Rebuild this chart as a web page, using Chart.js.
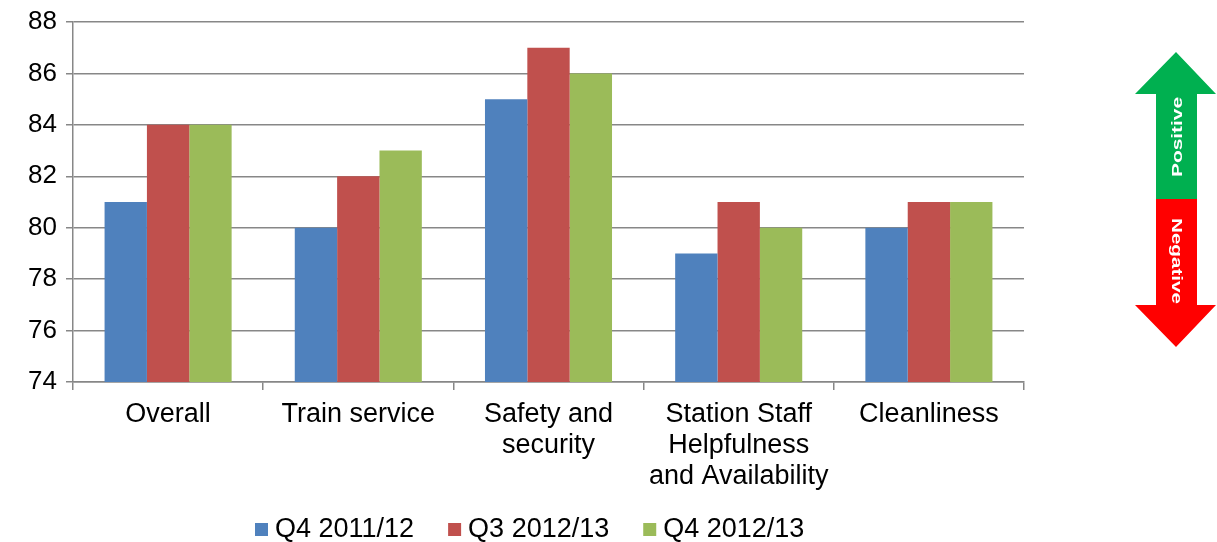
<!DOCTYPE html>
<html>
<head>
<meta charset="utf-8">
<script src="https://cdn.jsdelivr.net/npm/chart.js@4/dist/chart.umd.min.js"></script>
<style>
  html, body { margin: 0; padding: 0; background: #ffffff; }
  #wrap { width: 1217px; height: 542px; }
</style>
</head>
<body>
<div id="wrap"><canvas id="chart" width="1217" height="542"></canvas></div>
<script>
// Survey scores by category and quarter
const categories = [
  'Overall',
  'Train service',
  ['Safety and', 'security'],
  ['Station Staff', 'Helpfulness', 'and Availability'],
  'Cleanliness'
];
const seriesNames = ['Q4 2011/12', 'Q3 2012/13', 'Q4 2012/13'];
const q4_2011_12 = [81, 80, 85, 79, 80];
const q3_2012_13 = [84, 82, 87, 81, 81];
const q4_2012_13 = [84, 83, 86, 80, 81];
const yMin = 74;
const yMax = 88;
const yStep = 2;

const seriesColors = ['#4F81BD', '#C0504D', '#9BBB59'];
const gridColor = '#878787';
const FONT = '"Liberation Sans", Arial, sans-serif';
const FONT_SIZE = 27;

// Legend drawn along the bottom, small square swatch right next to each label
const bottomLegend = {
  id: 'bottomLegend',
  afterDraw(chart) {
    const ctx = chart.ctx;
    const sets = chart.data.datasets;
    const box = 13, gap = 7, itemGap = 34, cy = 529;
    ctx.save();
    ctx.font = FONT_SIZE + 'px ' + FONT;
    ctx.textBaseline = 'middle';
    const widths = sets.map(d => box + gap + ctx.measureText(d.label).width);
    const total = widths.reduce((a, b) => a + b, 0) + itemGap * (sets.length - 1);
    let x = Math.round(530 - total / 2);
    sets.forEach((d, i) => {
      ctx.fillStyle = d.backgroundColor;
      ctx.fillRect(x, cy - 6, box, box);
      ctx.fillStyle = '#000000';
      ctx.fillText(d.label, x + box + gap, cy + 1);
      x += widths[i] + itemGap;
    });
    ctx.restore();
  }
};

// Up/down direction arrow at the right: green = positive, red = negative
const directionArrow = {
  id: 'directionArrow',
  afterDraw(chart) {
    const ctx = chart.ctx;
    const cx = 1176, L = 1135, R = 1216, sL = 1156, sR = 1197;
    const tipTop = 52, headTop = 94, mid = 199, headBot = 305, tipBot = 347;
    ctx.save();
    ctx.fillStyle = '#00B050';
    ctx.beginPath();
    ctx.moveTo(cx, tipTop);
    ctx.lineTo(R, headTop);
    ctx.lineTo(sR, headTop);
    ctx.lineTo(sR, mid);
    ctx.lineTo(sL, mid);
    ctx.lineTo(sL, headTop);
    ctx.lineTo(L, headTop);
    ctx.closePath();
    ctx.fill();

    ctx.fillStyle = '#FF0000';
    ctx.beginPath();
    ctx.moveTo(sL, mid);
    ctx.lineTo(sR, mid);
    ctx.lineTo(sR, headBot);
    ctx.lineTo(R, headBot);
    ctx.lineTo(cx, tipBot);
    ctx.lineTo(L, headBot);
    ctx.lineTo(sL, headBot);
    ctx.closePath();
    ctx.fill();

    ctx.fillStyle = '#FFFFFF';
    ctx.font = 'bold 15px ' + FONT;
    ctx.textAlign = 'center';
    ctx.textBaseline = 'middle';
    const label = (text, x, y, angle, len) => {
      ctx.save();
      ctx.translate(x, y);
      ctx.rotate(angle);
      const w = ctx.measureText(text).width;
      ctx.scale(len / w, 1);
      ctx.fillText(text, 0, 1);
      ctx.restore();
    };
    label('Positive', cx + 1, 137, -Math.PI / 2, 80);
    label('Negative', cx + 1, 261, Math.PI / 2, 86);
    ctx.restore();
  }
};

const datasets = [q4_2011_12, q3_2012_13, q4_2012_13].map((values, i) => ({
  label: seriesNames[i],
  data: values,
  backgroundColor: seriesColors[i],
  borderWidth: 0,
  barPercentage: 1.0,
  categoryPercentage: 0.668
}));

new Chart(document.getElementById('chart'), {
  type: 'bar',
  data: { labels: categories, datasets },
  options: {
    responsive: false,
    animation: false,
    devicePixelRatio: 1,
    layout: { padding: { top: 22, right: 193, bottom: 52, left: 0 } },
    plugins: {
      legend: { display: false },
      tooltip: { enabled: false }
    },
    scales: {
      x: {
        offset: true,
        grid: {
          display: true,
          offset: true,
          drawOnChartArea: false,
          drawTicks: true,
          tickLength: 8,
          color: gridColor,
          lineWidth: 1.5
        },
        border: { display: true, color: gridColor, width: 1.5 },
        ticks: {
          color: '#000000',
          font: { family: FONT, size: FONT_SIZE, lineHeight: 1.15 },
          padding: 9,
          maxRotation: 0,
          autoSkip: false
        },
        afterFit(scale) { scale.height = 108; }
      },
      y: {
        min: yMin,
        max: yMax,
        grid: {
          color: gridColor,
          lineWidth: 1.5,
          drawTicks: true,
          tickLength: 7
        },
        border: { display: true, color: gridColor, width: 1.5 },
        ticks: {
          stepSize: yStep,
          color: '#000000',
          font: { family: FONT, size: 26, lineHeight: 0.8 },
          padding: 9
        },
        afterFit(scale) { scale.width = 73; }
      }
    }
  },
  plugins: [bottomLegend, directionArrow]
});
</script>
</body>
</html>
